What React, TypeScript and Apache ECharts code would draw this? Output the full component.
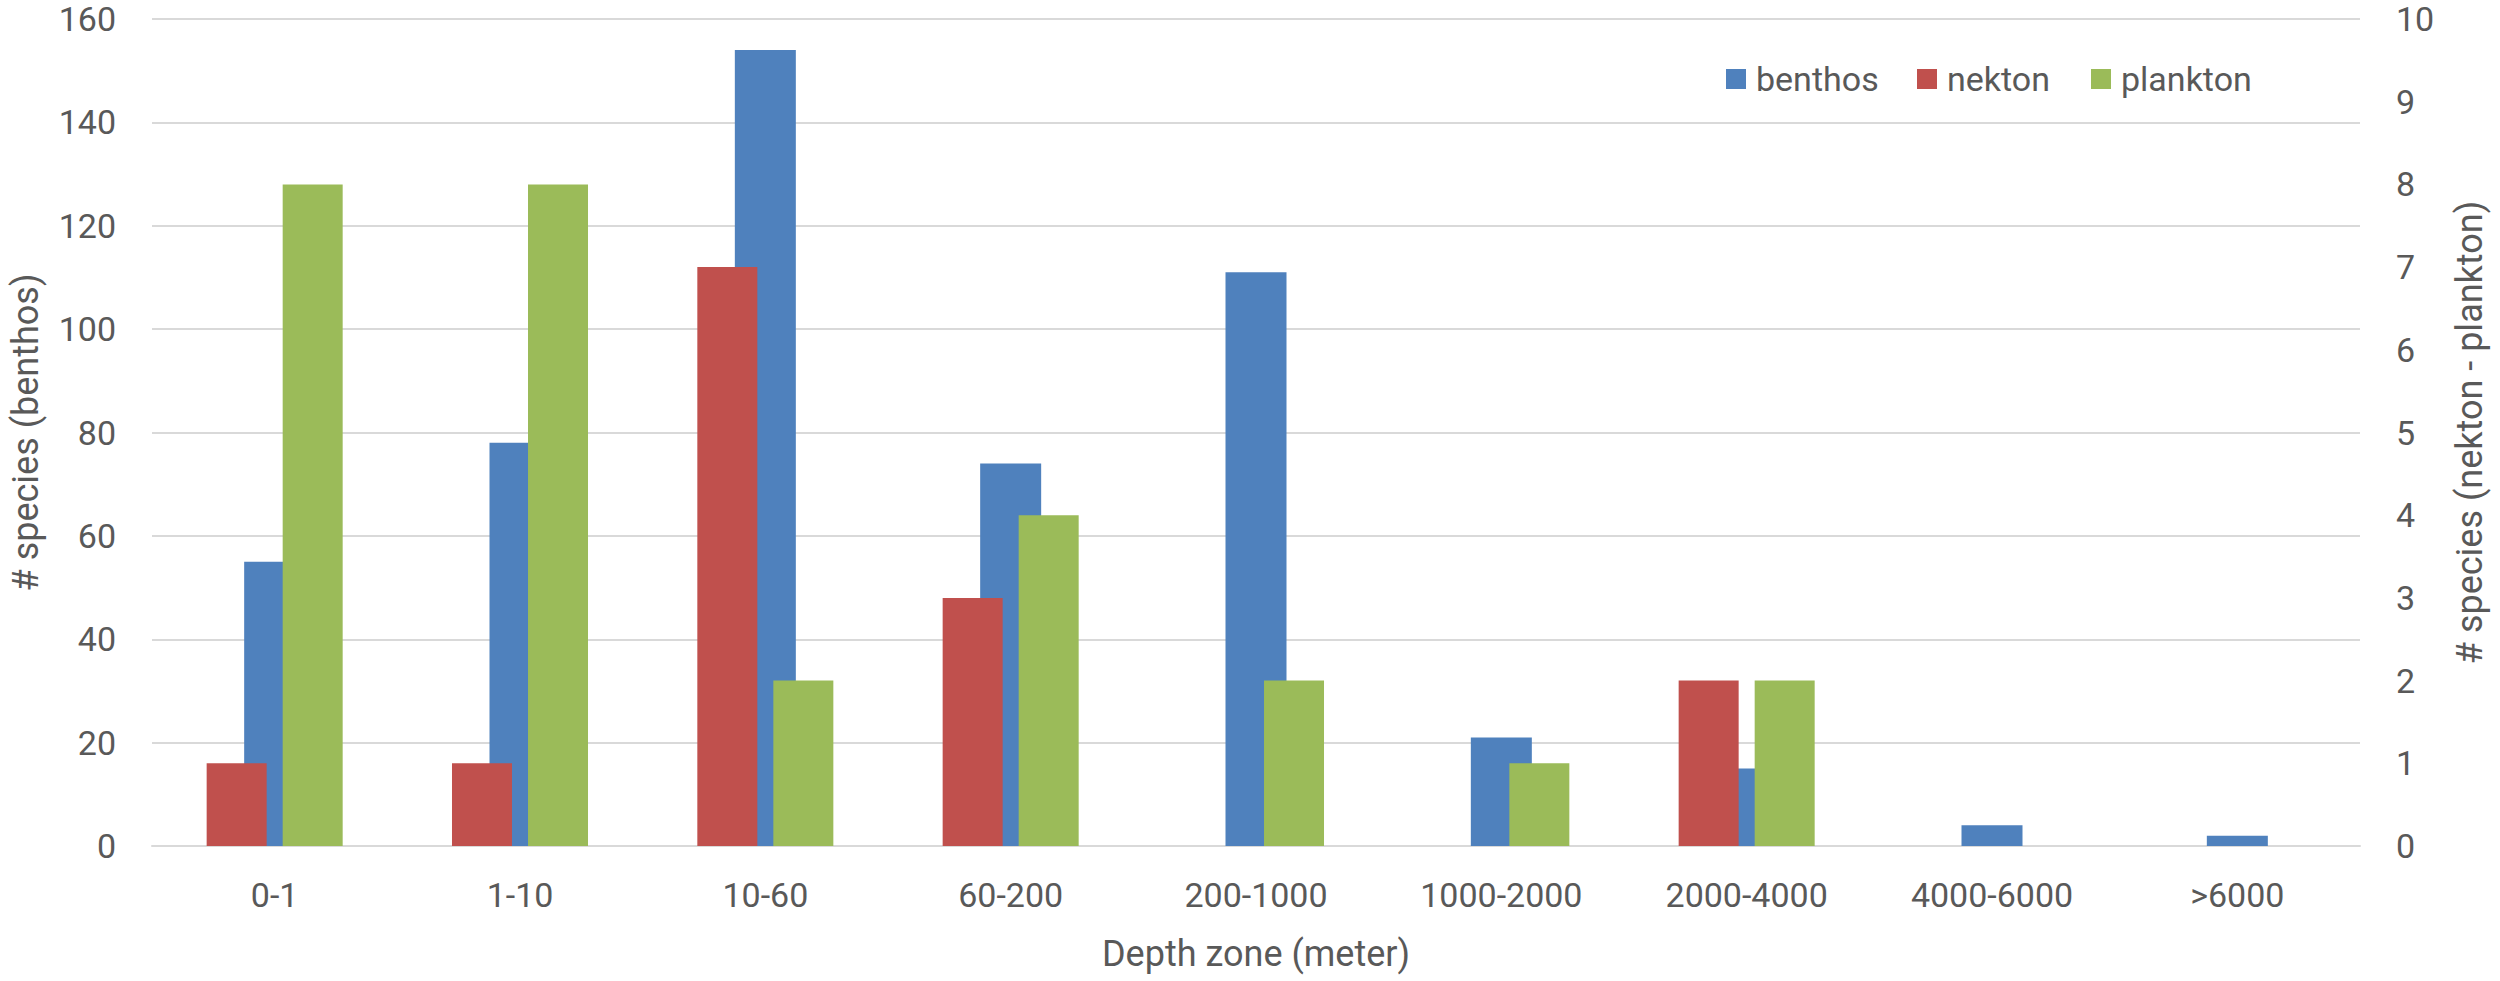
import React, { useEffect, useRef } from "react";
import * as echarts from "echarts";

const categories = ["0-1", "1-10", "10-60", "60-200", "200-1000", "1000-2000", "2000-4000", "4000-6000", ">6000"];
const benthos = [55, 78, 154, 74, 111, 21, 15, 4, 2];
const nekton = [1, 1, 7, 3, 0, 0, 2, 0, 0];
const plankton = [8, 8, 2, 4, 2, 1, 2, 0, 0];
const leftTicks = { min: 0, max: 160, interval: 20 };
const rightTicks = { min: 0, max: 10, interval: 1 };

const FONT = "Roboto, 'Noto Sans', sans-serif";
const TXT = "#595959";
const GRID = "#D9D9D9";
const C_BEN = "#4F81BD";
const C_NEK = "#C0504D";
const C_PLA = "#9BBB59";

export default function App() {
  const ref = useRef<HTMLDivElement>(null);
  useEffect(() => {
    if (!ref.current) return;
    const chart = echarts.init(ref.current, undefined, { renderer: "svg" });
    const legendBase = {
      top: 57,
      itemWidth: 20,
      itemHeight: 20,
      icon: "rect",
      textStyle: { fontFamily: FONT, fontSize: 34, color: TXT, padding: [0, 0, 0, 5] },
    };
    chart.setOption({
      animation: false,
      backgroundColor: "#ffffff",
      textStyle: { fontFamily: FONT },
      grid: { left: 148, right: 140, top: 19, bottom: 135 },
      legend: [
        { ...legendBase, left: 1721, data: ["benthos"] },
        { ...legendBase, left: 1912, data: ["nekton"] },
        { ...legendBase, left: 2086, data: ["plankton"] },
      ],
      xAxis: [
        {
          type: "category",
          data: categories,
          axisLine: { show: true, lineStyle: { color: GRID, width: 2 } },
          axisTick: { show: false },
          axisLabel: { fontFamily: FONT, fontSize: 34, color: TXT, margin: 32 },
          name: "Depth zone (meter)",
          nameLocation: "middle",
          nameGap: 90,
          nameTextStyle: { fontFamily: FONT, fontSize: 36, color: TXT },
        },
        {
          type: "category",
          data: categories,
          show: false,
        },
      ],
      yAxis: [
        {
          type: "value",
          ...leftTicks,
          position: "left",
          axisLine: { show: false },
          axisTick: { show: false },
          axisLabel: { fontFamily: FONT, fontSize: 34, color: TXT, margin: 36 },
          splitLine: { show: true, lineStyle: { color: GRID, width: 2 } },
          name: "# species (benthos)",
          nameLocation: "middle",
          nameRotate: 90,
          nameGap: 108,
          nameTextStyle: { fontFamily: FONT, fontSize: 36, color: TXT },
        },
        {
          type: "value",
          ...rightTicks,
          position: "right",
          axisLine: { show: false },
          axisTick: { show: false },
          axisLabel: { fontFamily: FONT, fontSize: 34, color: TXT, margin: 36 },
          splitLine: { show: false },
          name: "# species (nekton - plankton)",
          nameLocation: "middle",
          nameRotate: 90,
          nameGap: 92,
          nameTextStyle: { fontFamily: FONT, fontSize: 36, color: TXT },
        },
      ],
      series: [
        {
          name: "benthos",
          type: "bar",
          xAxisIndex: 0,
          yAxisIndex: 0,
          data: benthos,
          barWidth: 61,
          itemStyle: { color: C_BEN },
          z: 2,
        },
        {
          name: "nekton",
          type: "bar",
          xAxisIndex: 1,
          yAxisIndex: 1,
          data: nekton,
          barWidth: 60,
          barGap: "26.7%",
          itemStyle: { color: C_NEK },
          z: 3,
        },
        {
          name: "plankton",
          type: "bar",
          xAxisIndex: 1,
          yAxisIndex: 1,
          data: plankton,
          barWidth: 60,
          barGap: "26.7%",
          itemStyle: { color: C_PLA },
          z: 3,
        },
      ],
    });
    return () => chart.dispose();
  }, []);
  return (
    <div
      ref={ref}
      style={{ position: "fixed", left: 0, top: 0, width: 2500, height: 981, background: "#fff" }}
    />
  );
}
